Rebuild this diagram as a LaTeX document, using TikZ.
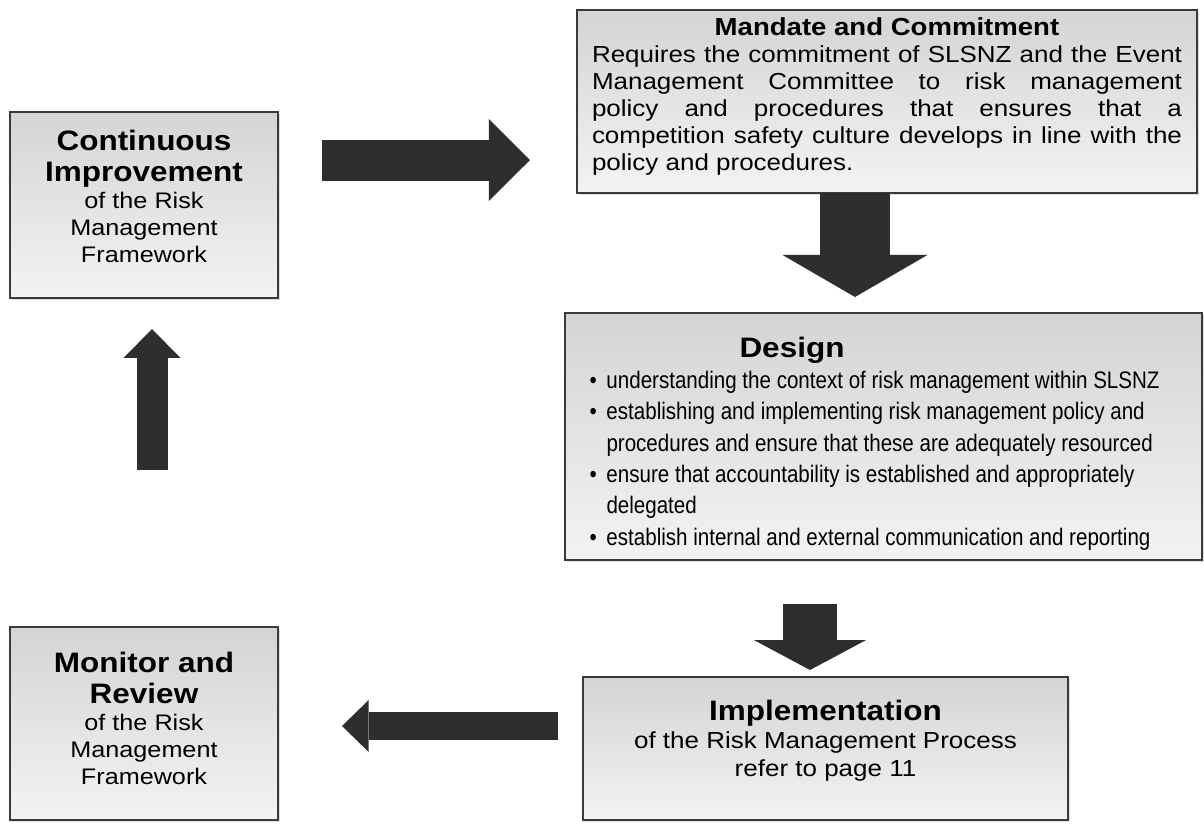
\documentclass[tikz,border=0pt]{standalone}
\usepackage{fontspec}
\setmainfont{Liberation Sans}
\newfontfamily\widefont[FakeStretch=1.12]{Liberation Sans}
\newfontfamily\narrowfont[FakeStretch=0.86]{Liberation Sans}
\usetikzlibrary{arrows.meta, shadows}

\definecolor{boxline}{HTML}{3A3A3A}
\definecolor{boxtop}{HTML}{D4D4D4}
\definecolor{boxbottom}{HTML}{F3F3F3}
\definecolor{arrowfill}{HTML}{2E2E2E}

\newlength\pxl
\setlength\pxl{0.025cm}
\newcommand\boxtitle{\widefont\bfseries\fontsize{20}{22}\selectfont}
\newcommand\sidebody{\widefont\fontsize{16}{19.2}\selectfont}
\newcommand\mainbody{\widefont\fontsize{16.5}{19.2}\selectfont}
\newcommand\designbody{\narrowfont\fontsize{17}{22.3}\selectfont}
\newcommand\ditem[1]{\par\hangindent=17\pxl\hangafter=1\noindent\makebox[17\pxl][l]{\textbullet}#1}

\begin{document}
\begin{tikzpicture}[x=0.025cm, y=-0.025cm,
    framebox/.style = {shape=rectangle, draw=boxline, line width=2\pxl,
      inner sep=0pt, top color=boxtop, bottom color=boxbottom,
      drop shadow={opacity=0.25, shadow xshift=2\pxl, shadow yshift=-2\pxl}},
    blockarrow/.style = {draw=arrowfill, line cap=butt}
  ]
  \useasboundingbox (0,0) rectangle (1204,824);

  % the five stages
  \node[framebox, minimum width=268\pxl, minimum height=186\pxl] (improve) at (144,205)
    {\parbox{260\pxl}{\centering{\boxtitle Continuous\\Improvement\par}%
      \sidebody of the Risk\\Management\\Framework\par\vspace*{17\pxl}}};
  \node[framebox, minimum width=620\pxl, minimum height=183\pxl] (mandate) at (887,101.5)
    {\parbox{590\pxl}{{\centering\widefont\bfseries\fontsize{17.5}{19}\selectfont
      Mandate and Commitment\par}%
      \mainbody Requires the commitment of SLSNZ and the Event\linebreak
      Management Committee to risk management\linebreak
      policy and procedures that ensures that a\linebreak
      competition safety culture develops in line with the\linebreak
      policy and procedures.\par\vspace*{10\pxl}}};
  \node[framebox, minimum width=637\pxl, minimum height=247\pxl] (design) at (883.5,436.5)
    {\parbox{588\pxl}{\vspace*{14\pxl}{\boxtitle\hspace*{150\pxl}Design\par}\raggedright\designbody
      \ditem{understanding the context of risk management within SLSNZ}
      \ditem{establishing and implementing risk management policy and\newline procedures and ensure that these are adequately resourced}
      \ditem{ensure that accountability is established and appropriately\newline delegated}
      \ditem{establish internal and external communication and reporting}}};
  \node[framebox, minimum width=485\pxl, minimum height=143\pxl] (implement) at (825.5,748.5)
    {\parbox{470\pxl}{\centering{\boxtitle Implementation\par}%
      \widefont\fontsize{16.5}{20}\selectfont of the Risk Management Process\\refer to page 11\par\vspace*{15\pxl}}};
  \node[framebox, minimum width=268\pxl, minimum height=193\pxl] (monitor) at (144,723.5)
    {\parbox{260\pxl}{\centering{\boxtitle Monitor and\\Review\par}%
      \sidebody of the Risk\\Management\\Framework\par\vspace*{11\pxl}}};

  % block arrows between the stages
  \coordinate (toMandA) at (322,160);   \coordinate (toMandB) at (530,160);
  \coordinate (toDesA)  at (855,193);   \coordinate (toDesB)  at (855,297);
  \coordinate (toImpA)  at (810,604);   \coordinate (toImpB)  at (810,670);
  \coordinate (toMonA)  at (558,726);   \coordinate (toMonB)  at (342,726);
  \coordinate (toImpvA) at (152,470);   \coordinate (toImpvB) at (152,329);

  \draw[blockarrow, line width=41\pxl, -{Triangle[width=58.3pt, length=29.2pt, line width=0pt]}] (toMandA) -- (toMandB);
  \draw[blockarrow, line width=70\pxl, -{Triangle[width=103.1pt, length=29.9pt, line width=0pt]}] (toDesA) -- (toDesB);
  \draw[blockarrow, line width=54\pxl, -{Triangle[width=79.7pt, length=21.3pt, line width=0pt]}] (toImpA) -- (toImpB);
  \draw[blockarrow, line width=28\pxl, -{Triangle[width=37pt, length=19pt, line width=0pt]}] (toMonA) -- (toMonB);
  \draw[blockarrow, line width=31\pxl, -{Triangle[width=40.5pt, length=20.6pt, line width=0pt]}] (toImpvA) -- (toImpvB);
\end{tikzpicture}
\end{document}
